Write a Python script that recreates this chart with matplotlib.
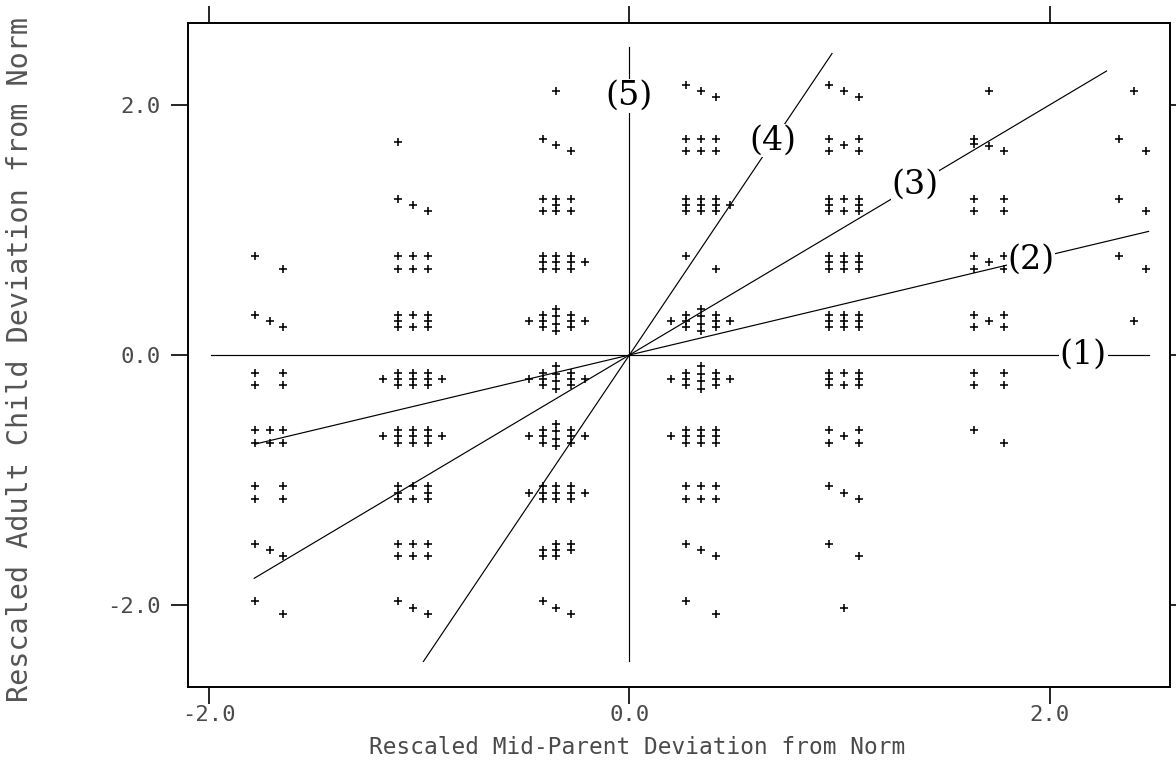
import matplotlib
matplotlib.use("Agg")
import matplotlib.pyplot as plt

plt.rcParams["axes.unicode_minus"] = False

# ---- data (rescaled deviations) ----
# one list pair per mid-parent column, cells listed top row to bottom row
col1_x = [-1.78, -1.65,
          -1.78, -1.71, -1.65,
          -1.78, -1.78, -1.65, -1.65,
          -1.78, -1.78, -1.71, -1.71, -1.65, -1.65,
          -1.78, -1.78, -1.65, -1.65,
          -1.78, -1.71, -1.65,
          -1.78, -1.65]
col1_y = [0.79, 0.69,
          0.32, 0.27, 0.22,
          -0.14, -0.24, -0.14, -0.24,
          -0.60, -0.70, -0.60, -0.70, -0.60, -0.70,
          -1.05, -1.15, -1.05, -1.15,
          -1.51, -1.56, -1.61,
          -1.97, -2.07]

col2_x = [-1.10,
          -1.10, -1.03, -0.96,
          -1.10, -1.10, -1.03, -1.03, -0.96, -0.96,
          -1.10, -1.10, -1.10, -1.03, -1.03, -0.96, -0.96, -0.96,
          -1.17, -1.10, -1.10, -1.10, -1.03, -1.03, -1.03, -0.96, -0.96, -0.96, -0.89,
          -1.17, -1.10, -1.10, -1.10, -1.03, -1.03, -1.03, -0.96, -0.96, -0.96, -0.89,
          -1.10, -1.10, -1.10, -1.03, -1.03, -0.96, -0.96, -0.96,
          -1.10, -1.10, -1.03, -1.03, -0.96, -0.96,
          -1.10, -1.03, -0.96]
col2_y = [1.70,
          1.25, 1.20, 1.15,
          0.79, 0.69, 0.79, 0.69, 0.79, 0.69,
          0.32, 0.27, 0.22, 0.32, 0.22, 0.32, 0.27, 0.22,
          -0.19, -0.14, -0.19, -0.24, -0.14, -0.19, -0.24, -0.14, -0.19, -0.24, -0.19,
          -0.65, -0.60, -0.65, -0.70, -0.60, -0.65, -0.70, -0.60, -0.65, -0.70, -0.65,
          -1.05, -1.10, -1.15, -1.05, -1.15, -1.05, -1.10, -1.15,
          -1.51, -1.61, -1.51, -1.61, -1.51, -1.61,
          -1.97, -2.02, -2.07]

col3_x = [-0.35,
          -0.41, -0.35, -0.28,
          -0.41, -0.41, -0.35, -0.35, -0.35, -0.28, -0.28,
          -0.41, -0.41, -0.41, -0.35, -0.35, -0.35, -0.28, -0.28, -0.28, -0.21,
          -0.48, -0.41, -0.41, -0.41, -0.35, -0.35, -0.35, -0.35, -0.28, -0.28, -0.28, -0.21,
          -0.48, -0.41, -0.41, -0.41, -0.35, -0.35, -0.35, -0.35, -0.28, -0.28, -0.28, -0.21,
          -0.48, -0.41, -0.41, -0.41, -0.35, -0.35, -0.35, -0.35, -0.28, -0.28, -0.28, -0.21,
          -0.48, -0.41, -0.41, -0.41, -0.35, -0.35, -0.35, -0.28, -0.28, -0.28, -0.21,
          -0.41, -0.41, -0.35, -0.35, -0.35, -0.28, -0.28,
          -0.41, -0.35, -0.28]
col3_y = [2.11,
          1.73, 1.68, 1.63,
          1.25, 1.15, 1.25, 1.20, 1.15, 1.25, 1.15,
          0.79, 0.74, 0.69, 0.79, 0.74, 0.69, 0.79, 0.74, 0.69, 0.74,
          0.27, 0.32, 0.27, 0.22, 0.37, 0.31, 0.25, 0.19, 0.32, 0.27, 0.22, 0.27,
          -0.19, -0.14, -0.19, -0.24, -0.09, -0.15, -0.21, -0.27, -0.14, -0.19, -0.24, -0.19,
          -0.65, -0.60, -0.65, -0.70, -0.55, -0.61, -0.67, -0.73, -0.60, -0.65, -0.70, -0.65,
          -1.10, -1.05, -1.10, -1.15, -1.05, -1.10, -1.15, -1.05, -1.10, -1.15, -1.10,
          -1.56, -1.61, -1.51, -1.56, -1.61, -1.51, -1.56,
          -1.97, -2.02, -2.07]

col4_x = [0.27, 0.34, 0.41,
          0.27, 0.27, 0.34, 0.34, 0.41, 0.41,
          0.27, 0.27, 0.27, 0.34, 0.34, 0.34, 0.41, 0.41, 0.41, 0.48,
          0.27, 0.41,
          0.20, 0.27, 0.27, 0.27, 0.34, 0.34, 0.34, 0.34, 0.41, 0.41, 0.41, 0.48,
          0.20, 0.27, 0.27, 0.27, 0.34, 0.34, 0.34, 0.34, 0.41, 0.41, 0.41, 0.48,
          0.20, 0.27, 0.27, 0.27, 0.34, 0.34, 0.34, 0.41, 0.41, 0.41,
          0.27, 0.27, 0.34, 0.34, 0.41, 0.41,
          0.27, 0.34, 0.41,
          0.27, 0.41]
col4_y = [2.16, 2.11, 2.06,
          1.73, 1.63, 1.73, 1.63, 1.73, 1.63,
          1.25, 1.20, 1.15, 1.25, 1.20, 1.15, 1.25, 1.20, 1.15, 1.20,
          0.79, 0.69,
          0.27, 0.32, 0.27, 0.22, 0.37, 0.31, 0.25, 0.19, 0.32, 0.27, 0.22, 0.27,
          -0.19, -0.14, -0.19, -0.24, -0.09, -0.15, -0.21, -0.27, -0.14, -0.19, -0.24, -0.19,
          -0.65, -0.60, -0.65, -0.70, -0.60, -0.65, -0.70, -0.60, -0.65, -0.70,
          -1.05, -1.15, -1.05, -1.15, -1.05, -1.15,
          -1.51, -1.56, -1.61,
          -1.97, -2.07]

col5_x = [0.95, 1.02, 1.09,
          0.95, 0.95, 1.02, 1.09, 1.09,
          0.95, 0.95, 0.95, 1.02, 1.02, 1.09, 1.09, 1.09,
          0.95, 0.95, 0.95, 1.02, 1.02, 1.02, 1.09, 1.09, 1.09,
          0.95, 0.95, 0.95, 1.02, 1.02, 1.02, 1.09, 1.09, 1.09,
          0.95, 0.95, 0.95, 1.02, 1.02, 1.09, 1.09, 1.09,
          0.95, 0.95, 1.02, 1.09, 1.09,
          0.95, 1.02, 1.09,
          0.95, 1.09,
          1.02]
col5_y = [2.16, 2.11, 2.06,
          1.73, 1.63, 1.68, 1.73, 1.63,
          1.25, 1.20, 1.15, 1.25, 1.15, 1.25, 1.20, 1.15,
          0.79, 0.74, 0.69, 0.79, 0.74, 0.69, 0.79, 0.74, 0.69,
          0.32, 0.27, 0.22, 0.32, 0.27, 0.22, 0.32, 0.27, 0.22,
          -0.14, -0.19, -0.24, -0.14, -0.24, -0.14, -0.19, -0.24,
          -0.60, -0.70, -0.65, -0.60, -0.70,
          -1.05, -1.10, -1.15,
          -1.51, -1.61,
          -2.02]

col6_x = [1.71,
          1.64, 1.64, 1.71, 1.78,
          1.64, 1.64, 1.78, 1.78,
          1.64, 1.64, 1.71, 1.78, 1.78,
          1.64, 1.64, 1.71, 1.78, 1.78,
          1.64, 1.64, 1.78, 1.78,
          1.64, 1.78]
col6_y = [2.11,
          1.73, 1.69, 1.67, 1.63,
          1.25, 1.15, 1.25, 1.15,
          0.79, 0.69, 0.74, 0.79, 0.69,
          0.32, 0.22, 0.27, 0.32, 0.22,
          -0.14, -0.24, -0.14, -0.24,
          -0.60, -0.70]

col7_x = [2.40, 2.33, 2.46, 2.33, 2.46, 2.33, 2.46, 2.40]
col7_y = [2.11, 1.73, 1.63, 1.25, 1.15, 0.79, 0.69, 0.27]

# reference lines through the origin: (1) to (4) by slope, (5) vertical
line_labels = ["(1)", "(2)", "(3)", "(4)"]
line_slopes = [0.0, 0.4, 1.0, 2.5]
line_x_start = [-1.99, -1.78, -1.785, -0.98]
line_x_end = [2.47, 2.47, 2.27, 0.964]
label_x = [2.16, 1.91, 1.36, 0.685]
vline_label = "(5)"
vline_y = [-2.45, 2.46]
vline_label_y = 2.07

ticks = [-2.0, 0.0, 2.0]
tick_labels = ["-2.0", "0.0", "2.0"]

# ---- plot ----
fig = plt.figure(figsize=(11.76, 7.63), dpi=100)
ax = fig.add_axes([188 / 1176, 1 - 687 / 763, 982 / 1176, 664 / 763])

cols_x = [col1_x, col2_x, col3_x, col4_x, col5_x, col6_x, col7_x]
cols_y = [col1_y, col2_y, col3_y, col4_y, col5_y, col6_y, col7_y]
for cx, cy in zip(cols_x, cols_y):
    ax.plot(cx, cy, "+", color="black", ms=6, mew=1.15, zorder=3)

label_font = dict(family="DejaVu Serif", size=24, ha="center", va="center",
                  bbox=dict(fc="white", ec="none", pad=0.5), zorder=5)
for lab, m, x0, x1, lx in zip(line_labels, line_slopes, line_x_start, line_x_end, label_x):
    ax.plot([x0, x1], [m * x0, m * x1], color="black", lw=0.85, zorder=2)
    ax.text(lx, m * lx, lab, **label_font)

ax.plot([0, 0], vline_y, color="black", lw=0.85, zorder=2)
ax.text(0, vline_label_y, vline_label, **label_font)

ax.set_xlim(-2.10, 2.572)
ax.set_ylim(-2.654, 2.654)
ax.set_xticks(ticks)
ax.set_xticklabels(tick_labels)
ax.set_yticks(ticks)
ax.set_yticklabels(tick_labels)

for sp in ax.spines.values():
    sp.set_linewidth(1.4)
ax.tick_params(direction="out", length=12, width=1.2, top=True, right=True,
               labeltop=False, labelright=False, colors="black")
ax.tick_params(axis="x", pad=1, labelsize=16, labelcolor="#4a4a4a")
ax.tick_params(axis="y", pad=8, labelsize=16, labelcolor="#4a4a4a")
for t in ax.get_xticklabels() + ax.get_yticklabels():
    t.set_family("DejaVu Sans Mono")

ax.set_xlabel("Rescaled Mid-Parent Deviation from Norm", family="DejaVu Sans Mono",
              fontsize=16.4, color="#4a4a4a", va="center")
ax.xaxis.set_label_coords((637 - 188) / 982, (687 - 747) / 664)
ax.set_ylabel("Rescaled Adult Child Deviation from Norm", family="DejaVu Sans Mono",
              fontsize=20.5, color="#555555", va="center")
ax.yaxis.set_label_coords((20 - 188) / 982, (687 - 360) / 664)

fig.savefig("out.png", dpi=100)
